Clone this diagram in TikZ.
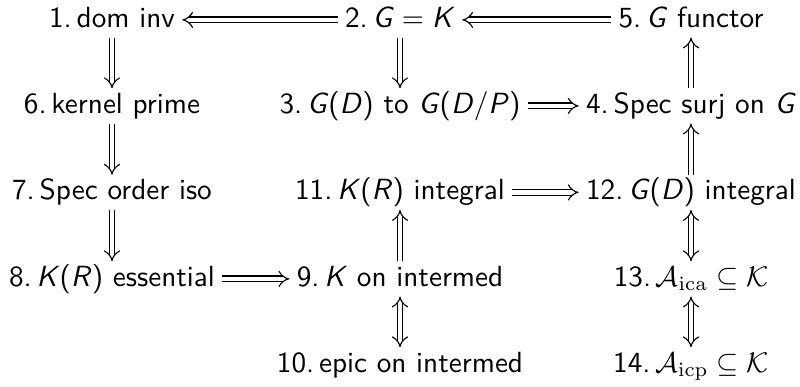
\documentclass[tikz,border=0pt]{standalone}
\usetikzlibrary{arrows.meta}
\newcommand{\mi}[1]{\textit{#1}}
\tikzset{
  cell/.style={anchor=base, font=\sffamily\fontsize{10.25}{12}\selectfont, text height=0.75em, text depth=0.25em, inner xsep=2.4pt, inner ysep=1pt},
  imp/.style={double, double distance=1.6pt, line width=0.4pt, -{Implies}},
  iff/.style={double, double distance=1.6pt, line width=0.4pt, {Implies}-{Implies}}
}
\begin{document}
\begin{tikzpicture}[x=0.351pt, y=-0.351pt]
\useasboundingbox (0,0) rectangle (800,386);
\node[cell] (n1) at (112,27) {1.\,dom inv};
\node[cell] (n2) at (400,27) {2.\,\mi{G}${}={}$\mi{K}};
\node[cell] (n5) at (691,27) {5.\,\mi{G} functor};
\node[cell] (n6) at (112,113) {6.\,kernel prime};
\node[cell] (n3) at (400,113) {3.\,\mi{G}(\mi{D}) to \mi{G}(\mi{D}/\mi{P})};
\node[cell] (n4) at (691,113) {4.\,Spec surj on \mi{G}};
\node[cell] (n7) at (112,199.5) {7.\,Spec order iso};
\node[cell] (n11) at (400,199.5) {11.\,\mi{K}(\mi{R}) integral};
\node[cell] (n12) at (691,199.5) {12.\,\mi{G}(\mi{D}) integral};
\node[cell] (n8) at (112,286) {8.\,\mi{K}(\mi{R}) essential};
\node[cell] (n9) at (400,286) {9.\,\mi{K} on intermed};
\node[cell] (n13) at (691,286) {13.\,$\mathcal{A}_{\mathrm{ica}}\subseteq\mathcal{K}$};
\node[cell] (n10) at (400,372) {10.\,epic on intermed};
\node[cell] (n14) at (691,372) {14.\,$\mathcal{A}_{\mathrm{icp}}\subseteq\mathcal{K}$};
\draw[imp] (n2.west) -- (n1.east);
\draw[imp] (n5.west) -- (n2.east);
\draw[imp] (n1.south) -- (n6.north);
\draw[imp] (n2.south) -- (n3.north);
\draw[imp] (n3.east) -- (n4.west);
\draw[imp] (n4.north) -- (n5.south);
\draw[imp] (n6.south) -- (n7.north);
\draw[imp] (n7.south) -- (n8.north);
\draw[imp] (n8.east) -- (n9.west);
\draw[imp] (n9.north) -- (n11.south);
\draw[imp] (n11.east) -- (n12.west);
\draw[imp] (n12.north) -- (n4.south);
\draw[iff] (n12.south) -- (n13.north);
\draw[iff] (n13.south) -- (n14.north);
\draw[iff] (n9.south) -- (n10.north);
\end{tikzpicture}
\end{document}
